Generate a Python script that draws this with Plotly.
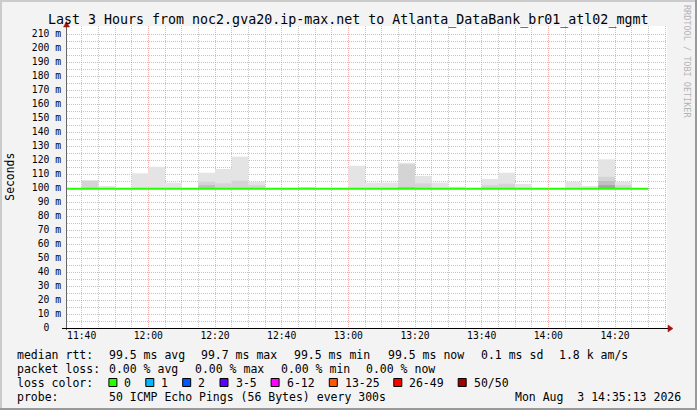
import plotly.graph_objects as go

# ---------------- data ----------------
title_text = "Last 3 Hours from noc2.gva20.ip-max.net to Atlanta_DataBank_br01_atl02_mgmt"

interval_start = ["11:40", "11:45", "11:50", "11:55", "12:00", "12:05", "12:10", "12:15",
                  "12:20", "12:25", "12:30", "12:35", "12:40", "12:45", "12:50", "12:55",
                  "13:00", "13:05", "13:10", "13:15", "13:20", "13:25", "13:30", "13:35",
                  "13:40", "13:45", "13:50", "13:55", "14:00", "14:05", "14:10", "14:15",
                  "14:20", "14:25"]
# smoke layers (ms): outermost (max) to innermost
smoke_max = [105.7, 101.4, None, 110.5, 115.2, 103.8, None, 110.9,
             113.6, 122.4, 104.5, None, None, 100.7, None, None,
             115.9, 103.8, 103.8, 118.0, 108.6, 103.8, 100.9, None,
             106.4, 110.9, 102.9, None, None, 104.5, 101.4, 120.5,
             104.5, None]
smoke_l2 = [105.0, None, None, None, None, None, None, 104.5,
            103.3, 105.2, 102.0, None, None, None, None, None,
            None, None, None, 117.0, 103.3, None, None, None,
            102.0, 103.0, None, None, None, None, None, 108.0,
            102.0, None]
smoke_l3 = [None, None, None, None, None, None, None, 102.1,
            None, None, None, None, None, None, None, None,
            None, None, None, 100.8, None, None, None, None,
            None, None, None, None, None, None, None, 105.0,
            None, None]
smoke_l4 = [None, None, None, None, None, None, None, None,
            None, None, None, None, None, None, None, None,
            None, None, None, None, None, None, None, None,
            None, None, None, None, None, None, None, 102.0,
            None, None]
min_rtt = 99.3

median_start = ["11:35", "11:40", "11:45", "11:50", "11:55", "12:00", "12:05", "12:10",
                "12:15", "12:20", "12:25", "12:30", "12:35", "12:40", "12:45", "12:50",
                "12:55", "13:00", "13:05", "13:10", "13:15", "13:20", "13:25", "13:30",
                "13:35", "13:40", "13:45", "13:50", "13:55", "14:00", "14:05", "14:10",
                "14:15", "14:20", "14:25", "14:30"]
median_rtt = [99.5, 99.5, 99.5, 99.5, 99.5, 99.5, 99.5, 99.5, 99.5, 99.5, 99.5, 99.5,
              99.5, 99.5, 99.5, 99.5, 99.5, 99.5, 99.5, 99.5, 99.5, 99.5, 99.5, 99.5,
              99.5, 99.5, 99.5, 99.5, 99.5, 99.5, 99.5, 99.5, 99.5, 99.5, 99.5, 99.5]

x_tick_labels = ["11:40", "12:00", "12:20", "12:40", "13:00", "13:20", "13:40", "14:00", "14:20"]
y_tick_values = [0, 10, 20, 30, 40, 50, 60, 70, 80, 90, 100, 110, 120, 130, 140, 150,
                 160, 170, 180, 190, 200, 210]
y_tick_labels = ["0\u00a0\u00a0", "10 m", "20 m", "30 m", "40 m", "50 m", "60 m", "70 m",
                 "80 m", "90 m", "100 m", "110 m", "120 m", "130 m", "140 m", "150 m",
                 "160 m", "170 m", "180 m", "190 m", "200 m", "210 m"]

legend_rtt = ["median rtt:", "99.5 ms avg", "99.7 ms max", "99.5 ms min", "99.5 ms now",
              "0.1 ms sd", "1.8 k am/s"]
legend_loss = ["packet loss:", "0.00 % avg", "0.00 % max", "0.00 % min", "0.00 % now"]
loss_labels = ["0", "1", "2", "3-5", "6-12", "13-25", "26-49", "50/50"]
probe_text = "50 ICMP Echo Pings (56 Bytes) every 300s"
stamp_text = "Mon Aug\u00a0\u00a03 14:35:13 2026"

# ---------------- styles / positions ----------------
W, H = 697, 410
L, R, T, B = 67, 667, 26, 328
loss_colors = ["#26ff00", "#00b8ff", "#0059ff", "#5e00ff", "#ff00ff", "#ff5500", "#ff0000", "#a10000"]
layer_colors = ["#e4e4e4", "#d4d4d4", "#c0c0c0", "#a4a4a4"]
MONO = "DejaVu Sans Mono"


def PX(x):
    return (x - L) / (R - L)


def PY(y):
    return (B - y) / (B - T)


def to_min(s):
    h, m = s.split(":")
    return int(h) * 60 + int(m)


fig = go.Figure()

for layer, col in zip([smoke_max, smoke_l2, smoke_l3, smoke_l4], layer_colors):
    xs = [to_min(s) + 2.5 for s, v in zip(interval_start, layer) if v is not None]
    ys = [v - min_rtt for v in layer if v is not None]
    fig.add_trace(go.Bar(x=xs, y=ys, base=min_rtt, width=5, marker=dict(color=col, line=dict(width=0)),
                         showlegend=False, hoverinfo="skip"))

fig.add_trace(go.Scatter(x=[to_min(s) for s in median_start], y=median_rtt, mode="lines",
                         line=dict(color="#26ff00", width=2, shape="hv"), showlegend=False,
                         hoverinfo="skip"))

x_ticks = [to_min(s) for s in x_tick_labels]
x_left = to_min("11:40") - (81.67 - L) / ((R - L) / 180.0)
grid_major = "rgba(240,120,120,0.6)"
grid_minor = "rgba(150,150,150,0.55)"
fig.update_xaxes(range=[x_left, x_left + 180], tickmode="linear", tick0=x_ticks[0],
                 dtick=x_ticks[1] - x_ticks[0],
                 labelalias={str(v): s for v, s in zip(x_ticks, x_tick_labels)},
                 showgrid=True, gridcolor=grid_major, griddash="1px,1px",
                 gridwidth=1, zeroline=False, showline=False, ticks="",
                 tickfont=dict(family=MONO, size=9.7, color="#000"),
                 minor=dict(tickmode="linear", dtick=5, tick0=0, showgrid=True, gridcolor=grid_minor,
                            griddash="1px,1px", gridwidth=1, ticks=""))
fig.update_yaxes(range=[0, (B - T) / 1.4], tickmode="linear", tick0=0,
                 dtick=y_tick_values[1] - y_tick_values[0],
                 labelalias={str(v): s for v, s in zip(y_tick_values, y_tick_labels)},
                 showgrid=True, gridcolor=grid_major, griddash="1px,1px", gridwidth=1,
                 zeroline=False, showline=False, ticks="", ticklabelstandoff=5,
                 tickfont=dict(family=MONO, size=9.7, color="#000"),
                 minor=dict(tickmode="linear", dtick=5, tick0=0, showgrid=True, gridcolor=grid_minor,
                            griddash="1px,1px", gridwidth=1, ticks=""))

shapes = []
# canvas border shading
shapes.append(dict(type="rect", xref="paper", yref="paper", x0=PX(0), x1=PX(W), y0=PY(0), y1=PY(2),
                   fillcolor="#cbcbcb", line=dict(width=0)))
shapes.append(dict(type="rect", xref="paper", yref="paper", x0=PX(0), x1=PX(2), y0=PY(0), y1=PY(H),
                   fillcolor="#cbcbcb", line=dict(width=0)))
shapes.append(dict(type="rect", xref="paper", yref="paper", x0=PX(W - 2), x1=PX(W), y0=PY(0), y1=PY(H),
                   fillcolor="#999999", line=dict(width=0)))
shapes.append(dict(type="rect", xref="paper", yref="paper", x0=PX(0), x1=PX(W), y0=PY(H - 2), y1=PY(H),
                   fillcolor="#999999", line=dict(width=0)))
# axes
shapes.append(dict(type="line", xref="paper", yref="paper", x0=PX(66.5), x1=PX(66.5), y0=PY(330), y1=PY(24),
                   line=dict(color="#666666", width=1)))
shapes.append(dict(type="line", xref="paper", yref="paper", x0=PX(62), x1=PX(668), y0=PY(328.5), y1=PY(328.5),
                   line=dict(color="#000000", width=1)))


def tri(pts):
    p = "M " + " L ".join("%f %f" % (PX(x), PY(y)) for x, y in pts) + " Z"
    return dict(type="path", xref="paper", yref="paper", path=p, fillcolor="#a31515",
                line=dict(color="#a31515", width=0.5))


shapes.append(tri([(668, 325), (673, 328.5), (668, 332)]))
shapes.append(tri([(63.5, 27), (66.5, 21.5), (69.5, 27)]))

# loss colour boxes
box_x = [108.9, 145.8, 182.7, 220.0, 271.1, 329.3, 393.8, 458.2]
for bx, col in zip(box_x, loss_colors):
    shapes.append(dict(type="rect", xref="paper", yref="paper", x0=PX(bx), x1=PX(bx + 8),
                       y0=PY(378.5), y1=PY(386.5), fillcolor=col, line=dict(color="#000", width=1)))

ann = []


def txt(x, y, s, anchor="left", size=11.5, color="#000", angle=0):
    ann.append(dict(x=PX(x), y=PY(y), xref="paper", yref="paper", text=s, showarrow=False,
                    xanchor=anchor, yanchor="middle", borderpad=0, textangle=angle,
                    font=dict(family=MONO, size=size, color=color)))


txt(348, 20, title_text, anchor="center", size=13.3)
txt(10, 176.7, "Seconds", anchor="center", size=11.4, angle=-90)
txt(687, 61, "RRDTOOL / TOBI OETIKER", anchor="center", size=8.5, color="#b4b4b4", angle=90)

rtt_x = [16.4, 108.0, 200.0, 293.3, 386.7, 480.0, 557.8]
for x, s in zip(rtt_x, legend_rtt):
    txt(x, 354.5, s)
loss_x = [16.4, 108.0, 194.2, 280.0, 365.3]
for x, s in zip(loss_x, legend_loss):
    txt(x, 368.5, s)
txt(16.4, 382.5, "loss color:")
for bx, s in zip(box_x, loss_labels):
    txt(bx + 14.5, 382.5, s)
txt(16.4, 396.5, "probe:")
txt(108.0, 396.5, probe_text)
txt(682, 396.5, stamp_text, anchor="right")

fig.update_layout(width=W, height=H, autosize=False,
                  margin=dict(l=L, r=W - R, t=T, b=H - B, pad=0),
                  paper_bgcolor="#f3f3f3", plot_bgcolor="#ffffff",
                  barmode="overlay", shapes=shapes, annotations=ann, showlegend=False)

fig.write_html("out.html", config={"displayModeBar": False},
               post_script="document.body.style.margin='0';document.body.style.padding='0';")
